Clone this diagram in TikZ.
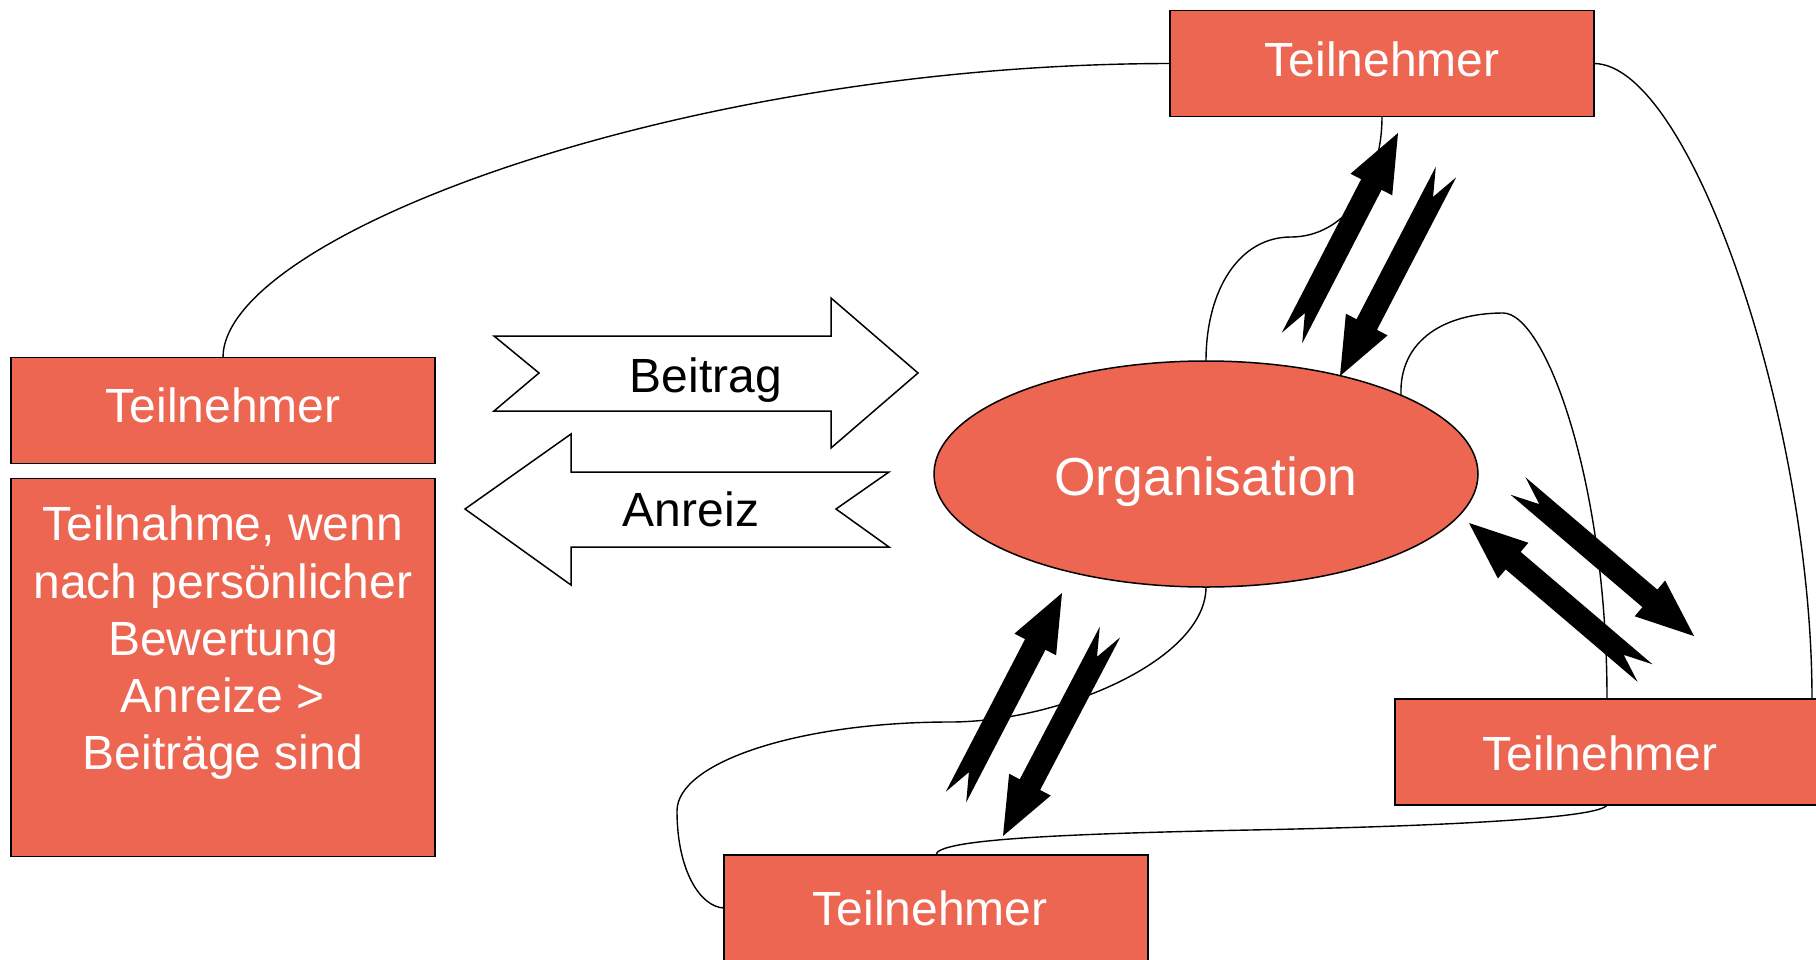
\documentclass[tikz,border=0pt]{standalone}
\usepackage{fontspec}
\setmainfont{Liberation Sans}
\usetikzlibrary{calc,shapes.geometric}
\definecolor{salmon}{RGB}{236,102,82}

% thick black arrow with a notched tail: #1 tail centre, #2 tip
\newcommand\notchedarrow[2]{%
  \fill[black]
    ($(#1)!11.5pt!90:(#2)$) --
    ($(#2)!58pt!(#1)!11.5pt!90:(#2)$) --
    ($(#2)!58pt!(#1)!23.5pt!90:(#2)$) --
    (#2) --
    ($(#2)!58pt!(#1)!23.5pt!-90:(#2)$) --
    ($(#2)!58pt!(#1)!11.5pt!-90:(#2)$) --
    ($(#1)!11.5pt!-90:(#2)$) --
    ($(#1)!28pt!(#2)$) -- cycle;}

\begin{document}
\begin{tikzpicture}[x=1pt,y=-1pt,
  box/.style={draw=black, line width=1.5pt, fill=salmon,
    minimum width=424pt, minimum height=106pt, inner sep=0pt, outer sep=0pt},
  boxlabel/.style={text=white, font=\fontsize{48}{57}\selectfont,
    anchor=base, inner sep=0pt},
  conn/.style={draw=black, line width=1.4pt},
  flow/.style={draw=black, line width=1.5pt, fill=white, line join=miter},
  flowlabel/.style={font=\fontsize{48}{57}\selectfont, anchor=base, inner sep=0pt}]

\useasboundingbox (0,0) rectangle (1816,959);
\clip (0,0) rectangle (1816,959);

% participant boxes and the organisation
\node[box] (tTop)    at (1382,63.5) {};
\node[box] (tLeft)   at (223,410.5) {};
\node[box, minimum height=378pt] (note) at (223,667.5) {};
\node[box] (tRight)  at (1607,752) {};
\node[box] (tBottom) at (936,908) {};
\node[ellipse, draw=black, line width=1.5pt, fill=salmon,
      minimum width=544pt, minimum height=226pt, inner sep=0pt, outer sep=0pt]
      (org) at (1206,474) {};

\node[boxlabel] (lTop)    at (1382,76)  {Teilnehmer};
\node[boxlabel] (lLeft)   at (223,422)  {Teilnehmer};
\node[boxlabel] (lRight)  at (1600,770) {Teilnehmer};
\node[boxlabel] (lBottom) at (930,925)  {Teilnehmer};
\node[text=white, font=\fontsize{53.5}{60}\selectfont, anchor=base, inner sep=0pt]
      (lOrg) at (1206,495) {Organisation};
\node[text=white, font=\fontsize{48}{57.3}\selectfont, anchor=base, inner sep=0pt]
      (noteText) at (223,540.7)
      {\begin{tabular}[t]{@{}c@{}}Teilnahme, wenn\\nach persönlicher\\Bewertung\\Anreize >\\Beiträge sind\end{tabular}};

% contribution / incentive arrows
\draw[flow] (494,336) -- (831,336) -- (831,298) -- (918,373) -- (831,448)
  -- (831,411) -- (494,411) -- (539,373) -- cycle;
\node[flowlabel] (beitrag) at (706,392) {Beitrag};
\draw[flow] (465,509) -- (571,434) -- (571,472) -- (889,472) -- (836,509)
  -- (889,547) -- (571,547) -- (571,585) -- cycle;
\node[flowlabel] (anreiz) at (691,526) {Anreiz};

% curved links between the participants and the organisation
\coordinate (rTopIn) at ($(tRight.north)+(205,0)$);
\draw[conn] (tTop.west) .. controls (680,64) and (223,236) .. (tLeft.north);
\draw[conn] (tTop.east) .. controls (1690,64) and (1812,420) .. (rTopIn);
\draw[conn] (org.north) .. controls (1206,290) and (1239,237) .. (1291,237)
  .. controls (1343,237) and (1382,185) .. (tTop.south);
\draw[conn] (org.22.5) .. controls (1399,340) and (1445,313) .. (1503,313)
  .. controls (1545,313) and (1607,480) .. (tRight.north);
\draw[conn] (org.south) .. controls (1206,660) and (1060,722) .. (950,722)
  .. controls (800,722) and (677,762) .. (677,811)
  .. controls (677,870) and (700,907) .. (tBottom.west);
\draw[conn] (tRight.south) .. controls (1600,818) and (1450,826) .. (1250,830)
  .. controls (1050,834) and (936,840) .. (tBottom.north);

% exchange arrows
\coordinate (a1s) at (1292,338); \coordinate (a1e) at (1398,133);
\coordinate (a2s) at (1446,172); \coordinate (a2e) at (1340,376);
\coordinate (b1s) at (956,797);  \coordinate (b1e) at (1062,593);
\coordinate (b2s) at (1110,632); \coordinate (b2e) at (1003,836);
\coordinate (c1s) at (1645,673); \coordinate (c1e) at (1469,523);
\coordinate (c2s) at (1518,486); \coordinate (c2e) at (1694,636);
\notchedarrow{a1s}{a1e}
\notchedarrow{a2s}{a2e}
\notchedarrow{b1s}{b1e}
\notchedarrow{b2s}{b2e}
\notchedarrow{c1s}{c1e}
\notchedarrow{c2s}{c2e}
\end{tikzpicture}
\end{document}
